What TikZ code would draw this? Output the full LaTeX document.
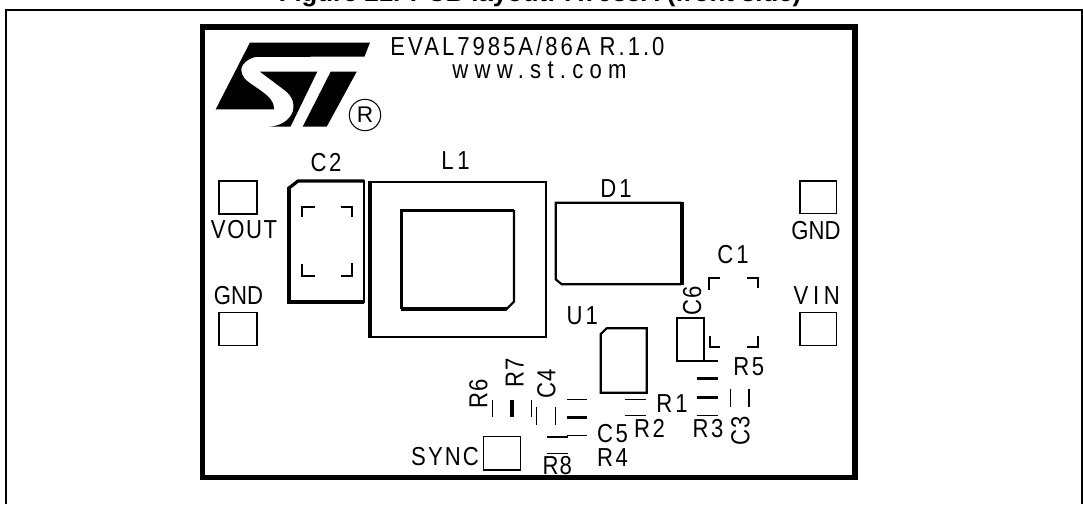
\documentclass[tikz,border=0pt]{standalone}
\usepackage{fontspec}
\setmainfont{Liberation Sans}
\newfontfamily\silkfont[FakeStretch=0.85]{Liberation Sans}
\newcommand{\ls}[2]{\addfontfeature{LetterSpace=#1}#2}
\begin{document}
\begin{tikzpicture}[x=0.75pt,y=-0.75pt,line join=miter,
  silk/.style={inner sep=0pt,outer sep=0pt,font=\silkfont\fontsize{19.5}{21}\selectfont},
  silkrot/.style={silk,rotate=90},
  lthin/.style={draw=black,line width=1.1pt},
  lmid/.style={draw=black,line width=1.6pt},
  lthick/.style={draw=black,line width=2.4pt},
  pad/.style={draw=black,line width=1.1pt,fill=white}]
\useasboundingbox (0,0) rectangle (1083,504);
% title and frame
\node[font=\bfseries\fontsize{19.3}{21}\selectfont,anchor=base,inner sep=0pt] (title) at (540,1.5) {Figure 21. PCB layout: A7985A (front side)};
\draw[line width=1.5pt] (6,504) |- (1082,10) -- (1082,504);
\draw[line width=3.9pt] (202.5,27) rectangle (855,477.5);
% logo
\fill (250,42.5) -- (370,42.5) -- (364.5,56.5) -- (255,57) .. controls (244,60) and (239,68) .. (242,74) .. controls (244,80) and (250,83) .. (260,90) .. controls (268,96) and (274,100) .. (274,109.3) -- (215.7,109.3) -- cycle;
\fill (260,71.7) -- (317.3,71.7) -- (290.5,126.7) -- (269.3,126.7) .. controls (281,126) and (290,120) .. (293,111) .. controls (295,100) and (290,94) .. (283,89) -- cycle;
\fill (330.7,71.7) -- (356.7,71.7) -- (326.7,126.7) -- (302.7,126.7) -- cycle;
\node[circle,draw,line width=0.8pt,minimum size=23.5pt,inner sep=0pt,font=\fontsize{17}{18}\selectfont] (reg) at (365,115) {R};
% board texts
\node[silk] (evaltext) at (527.5,46.7) {\ls{11.5}{EVAL7985A/86A R.1.0}};
\node[silk,anchor=base] (wwwtext) at (539.5,78) {\ls{24}{www.st.com}};
\node[silk] (c2text) at (326,163) {\ls{10}{C2}};
\node[silk] (l1text) at (455.5,160.5) {\ls{14}{L1}};
\node[silk] (d1text) at (616,188.5) {\ls{12}{D1}};
\node[silk] (c1text) at (733,255) {\ls{12}{C1}};
\node[silk] (u1text) at (582.3,315.5) {\ls{12}{U1}};
\node[silk] (vouttext) at (244,230) {\ls{6}{VOUT}};
\node[silk] (gndl) at (238.5,296) {GND};
\node[silk] (gndr) at (816,230.5) {GND};
\node[silk] (vintext) at (816.7,296) {\ls{18}{VIN}};
\node[silk] (synctext) at (445,457) {\ls{8}{SYNC}};
\node[silk] (r1text) at (672,403.7) {\ls{12}{R1}};
\node[silk] (r2text) at (649.5,428.7) {\ls{10}{R2}};
\node[silk] (r3text) at (708,429) {\ls{10}{R3}};
\node[silk] (r4text) at (612.5,458) {\ls{10}{R4}};
\node[silk] (r5text) at (748.7,367) {\ls{10}{R5}};
\node[silk] (c5text) at (612.5,434) {\ls{10}{C5}};
\node[silk] (r8text) at (557.3,465.7) {\ls{4}{R8}};
\node[silkrot] (r6text) at (478.3,394) {\ls{4}{R6}};
\node[silkrot] (r7text) at (514.7,373) {\ls{4}{R7}};
\node[silkrot] (c4text) at (546.3,383.7) {\ls{4}{C4}};
\node[silkrot] (c6text) at (692.2,301) {\ls{4}{C6}};
\node[silkrot] (c3text) at (740.3,431) {\ls{4}{C3}};
% pads
\node[pad,minimum width=28.5pt,minimum height=25pt,inner sep=0pt] (padvout) at (238,197.5) {};
\node[pad,minimum width=28.5pt,minimum height=25pt,inner sep=0pt] (padgndl) at (238,329) {};
\node[pad,minimum width=27.5pt,minimum height=24.5pt,inner sep=0pt] (padgndr) at (818.3,197.3) {};
\node[pad,minimum width=27.5pt,minimum height=24.5pt,inner sep=0pt] (padvin) at (818.3,329) {};
\node[pad,minimum width=28pt,minimum height=25pt,inner sep=0pt] (padsync) at (502,453.3) {};
% C2
\draw[lthick] (289,188) -- (298,181) -- (364,181);
\draw[lthick] (289,187) -- (289,302) -- (364,302);
\draw[lmid,line width=1.8pt] (364,180) -- (364,303);
\draw[lmid] (301.7,217) |- (315,206.7);
\draw[lmid] (340.7,206.7) -| (352.3,217.3);
\draw[lmid] (302.3,264.3) |- (315,275.7);
\draw[lmid] (340.7,275.7) -| (352.3,263.3);
% L1
\draw[lmid] (370,182.3) -- (545.7,182.3) -- (545.7,337.3) -- (370,337.3);
\draw[lthick] (370,181.3) -- (370,338.3);
\draw[lthick] (401.7,309) -- (401.7,210.7) -- (514,210.7);
\draw[lthick] (401,309) -- (506.7,309);
\draw[lmid] (514,210) -- (514,301.7) -- (506.7,309);
% D1
\draw[lmid] (681.7,202.7) -- (555.7,202.7) -- (555.7,279.3) -- (561.7,284.3) -- (681.7,284.3);
\draw[draw=black,line width=2.7pt] (681.7,201.7) -- (681.7,285.3);
% C1
\draw[lmid] (709.3,290) |- (720,277.7);
\draw[lmid] (746.7,277.7) -| (758.3,288.3);
\draw[lmid] (710,336) |- (720,346.7);
\draw[lmid] (746.7,346.7) -| (758.3,336);
% C6
\draw[lmid] (677.3,318.3) rectangle (704,360.7);
\draw[lmid] (704,360.7) -- (718.3,360.7);
% U1
\draw[lmid] (646.7,328.3) -- (606.7,328.3) -- (600.7,334) -- (600.7,392.7) -- (646.7,392.7) -- cycle;
% small parts
\draw[lthin] (492.7,400) -- (492.7,417.3);
\draw[draw=black,line width=3pt] (511.7,400) -- (511.7,417.3);
\draw[lthin] (531.7,400) -- (531.7,417.3);
\draw[lthin] (536.7,406.7) -- (536.7,425);
\draw[lthin] (555.7,407.3) -- (555.7,425);
\draw[lthin] (566.7,399.3) -- (587.3,399.3);
\draw[draw=black,line width=2.5pt] (566.7,417.3) -- (587.3,417.3);
\draw[lthin] (566.7,435.3) -- (587.3,435.3);
\draw[lthin] (546.7,437) -- (567.7,437);
\draw[lthin] (546.7,453.3) -- (567.7,453.3);
\draw[lthin] (625,399.3) -- (646,399.3);
\draw[lthin] (625,415.7) -- (646,415.7);
\draw[lthick] (696.7,378.7) -- (718.3,378.7);
\draw[lthick] (696.7,397.7) -- (718.3,397.7);
\draw[lthin] (696.7,415.7) -- (718.3,415.7);
\draw[lthin] (730.7,389.3) -- (730.7,407.3);
\draw[lthin] (749,389.3) -- (749,407.3);
\end{tikzpicture}
\end{document}
